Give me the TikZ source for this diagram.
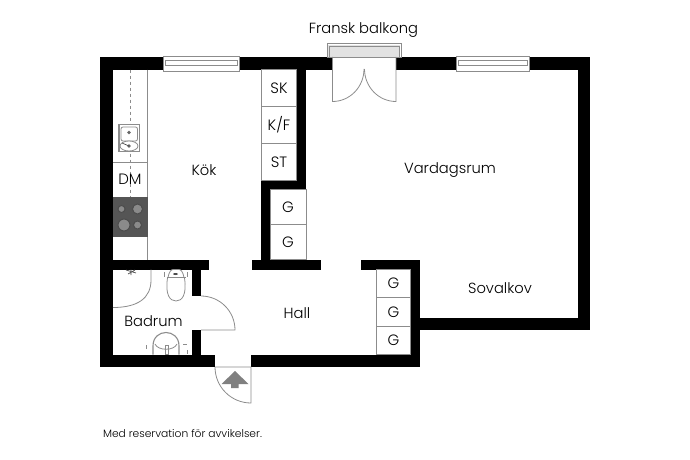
\documentclass[tikz,border=0pt]{standalone}
\usepackage{fontspec}
\setmainfont{Poppins}[UprightFont={* Light}]
\definecolor{linegray}{HTML}{8c8c8c}
\definecolor{stovegray}{HTML}{555555}
\definecolor{burnergray}{HTML}{8a8a8a}
\definecolor{arrowgray}{HTML}{808080}
\definecolor{balkonggray}{HTML}{e2e2e2}
\tikzset{
    wall/.style={fill=black},
    thinline/.style={draw=linegray, line width=0.8pt},
    cell/.style={draw=linegray, line width=0.8pt, minimum width=#1, inner sep=0pt, font=\fontsize{15}{15}\selectfont},
    room/.style={font=\fontsize{14.7}{15}\selectfont, inner sep=0pt},
    burner/.style={draw=black!70, fill=burnergray, line width=1pt},
}
\begin{document}
\begin{tikzpicture}[x=1pt,y=-1pt]
\useasboundingbox (0,0) rectangle (690,460);
% Draw outer walls
\fill[wall] (100,57) rectangle (113,367);
\fill[wall] (100,57) rectangle (590,69.5);
\fill[wall] (577.5,57) rectangle (590,330);
\fill[wall] (410,318) rectangle (590,330);
\fill[wall] (410,259.5) rectangle (420,367);
\fill[wall] (361,259.5) rectangle (420,269.5);
\fill[wall] (100,354.5) rectangle (215,367);
\fill[wall] (251,354.5) rectangle (420,367);
% Draw inner walls
\fill[wall] (297,57) rectangle (306,189);
\fill[wall] (261,180) rectangle (306,189);
\fill[wall] (261,180) rectangle (270,269.5);
\fill[wall] (251.5,259.5) rectangle (320.5,269.5);
\fill[wall] (100,259.5) rectangle (209,269.5);
\fill[wall] (192,259.5) rectangle (201,296);
\fill[wall] (192,330) rectangle (201,367);
% Draw windows
\foreach \xa/\xb in {163/239,456/529} {
    \fill[white] (\xa,55.5) rectangle (\xb,71.5);
    \draw[thinline] (\xa,56.5) rectangle (\xb,71.5);
    \draw[thinline] (\xa+2,60.5) rectangle (\xb-2,65);
}
% Draw French balcony door
\fill[white] (332.5,56) rectangle (396,70);
\fill[balkonggray] (328,45) rectangle (400,57);
\draw[thinline] (327,43.5) rectangle (401,57);
\draw[thinline] (329,46) rectangle (399,57);
\draw[thinline] (332.5,57) -- (396,57);
\draw[thinline] (332.5,57) -- (332.5,101.5) arc (90:0:31.5 and 32.5);
\draw[thinline] (396,57) -- (396,101.5) arc (90:180:31.5 and 32.5);
% Draw kitchen counter
\draw[thinline] (147.5,69.5) -- (147.5,259.5);
\draw[thinline] (113,162.5) -- (147.5,162.5);
\draw[thinline, dashed] (130,69.5) -- (130,197);
\fill[white] (118.5,124) rectangle (140,152);
\draw[thinline, line width=1.2pt] (119,124.5) rectangle (139.5,151.5);
\draw[thinline, fill=white, rounded corners=2pt] (121,127) rectangle (137.5,141);
\draw[thinline, fill=white] (129,146) ellipse (9 and 5);
\fill[black!60] (129,132.5) circle (1.8);
\fill[black!60] (129,146) circle (1.8);
\draw[black!70, line width=0.7pt] (122,143) -- (129,146);
% Draw stove
\fill[stovegray] (113,197) rectangle (147.5,237);
\foreach \bx/\by/\br in {121.5/209/3.5,137.5/209/5,124/225/6,137.5/225/4} {
    \draw[burner] (\bx,\by) circle (\br);
}
% Draw storage cells
\node[cell=35.5, minimum height=37] (sk) at (279,88) {SK};
\node[cell=35.5, minimum height=37] (kf) at (279,125) {K/F};
\node[cell=35.5, minimum height=37] (st) at (279,162) {ST};
\node[cell=36, minimum height=35] (garderoba) at (288,207) {G};
\node[cell=36, minimum height=35] (garderobb) at (288,242) {G};
\node[cell=34, minimum height=28.5] (garderobc) at (393.5,283.5) {G};
\node[cell=34, minimum height=28.5] (garderobd) at (393.5,312) {G};
\node[cell=34, minimum height=28.5] (garderobe) at (393.5,340.5) {G};
\node[cell=34, minimum height=34.5, draw=none] (dm) at (130,179.5) {DM};
% Draw bathroom fittings
\draw[thinline] (151,269.5) -- (151,280) .. controls (151,298) and (138,307.5) .. (113,307.5);
\draw[black!70, line width=0.7pt] (126,270) -- (136,273) (128,274) -- (135,270) (131,269.5) -- (131,275);
\draw[thinline] (168,277.5) .. controls (169,272) and (171,269.5) .. (173,269.5) -- (179,269.5) .. controls (181,269.5) and (183,272) .. (184,277.5);
\draw[thinline] (167,277.5) -- (185.5,277.5);
\draw[thinline] (167.5,278) .. controls (165,295) and (170,301) .. (176,301) .. controls (182,301) and (187,295) .. (184.5,278);
\draw[thinline] (164,272) -- (164,277) (187,272) -- (187,277);
\fill[black!70] (175.5,274) ellipse (2.5 and 1);
\draw[thinline, line width=1.1pt] (153,354.5) -- (153,346) .. controls (153,328) and (179,328) .. (179,346) -- (179,354.5);
\draw[thinline] (155,344) .. controls (158,351) and (174,351) .. (177,344);
\draw[thinline] (165,345) rectangle (168,354);
\draw[thinline] (146,345) -- (146,349) (183,344) -- (187,344) (187,350) -- (187,354);
% Draw doors
\draw[thinline] (201,330) -- (235,330) arc (0:-90:34);
\draw[thinline] (215,367) -- (251,367) -- (251,403) arc (90:180:36);
% Draw entrance arrow
\fill[arrowgray] (235,371) -- (248.5,384) -- (238.5,384) -- (238.5,388) -- (231,388) -- (231,384) -- (221.5,384) -- cycle;
% Write room labels
\node[room] (fransk) at (363.5,30.5) {Fransk balkong};
\node[room] (kok) at (204,170) {Kök};
\node[room] (vardagsrum) at (450,170.5) {Vardagsrum};
\node[room] (sovalkov) at (500,288) {Sovalkov};
\node[room] (hall) at (297,313.5) {Hall};
\node[room] (badrum) at (153.5,321.5) {Badrum};
\node[inner sep=0pt, font=\fontsize{10.7}{11}\selectfont] (reservation) at (182.5,433) {Med reservation för avvikelser.};
\end{tikzpicture}
\end{document}
